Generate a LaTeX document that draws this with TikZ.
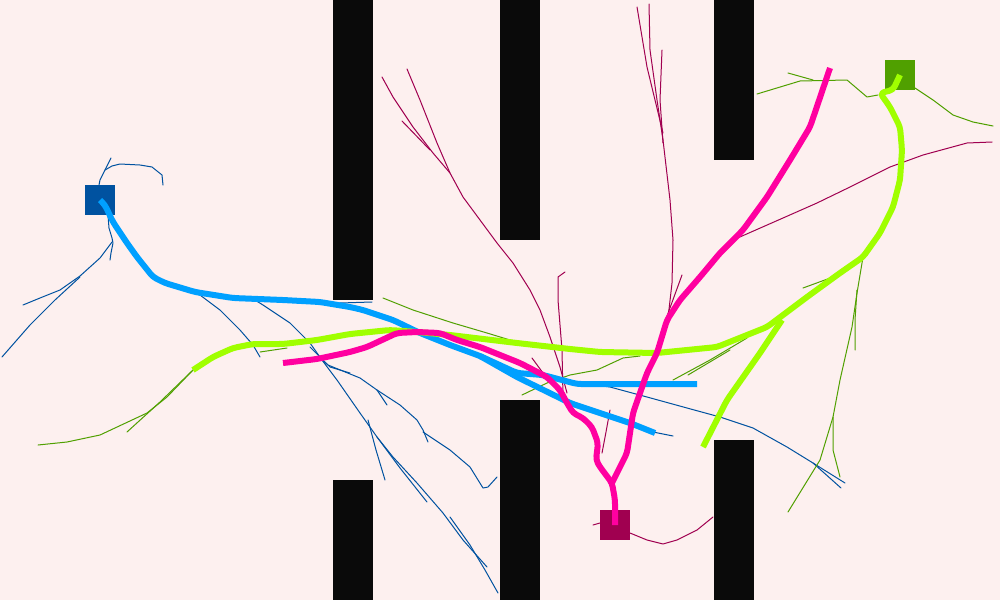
\documentclass[tikz,border=0pt]{standalone}
\definecolor{bgc}{RGB}{253,240,239}
\definecolor{obs}{RGB}{10,10,10}
\definecolor{bsq}{RGB}{0,82,160}
\definecolor{bpath}{RGB}{0,160,255}
\definecolor{gsq}{RGB}{80,160,0}
\definecolor{gpath}{RGB}{160,255,0}
\definecolor{msq}{RGB}{160,0,80}
\definecolor{mpath}{RGB}{255,0,160}
\tikzset{
  obstacle/.style={fill=obs,draw=none},
  sq/.style={rectangle,minimum size=30pt,inner sep=0pt,draw=none},
  thin tree/.style={line width=1pt,line join=round,line cap=round},
  thick path/.style={line width=6pt,line join=round,rounded corners=4pt},
}
\begin{document}
\begin{tikzpicture}[x=1pt,y=-1pt]
\fill[bgc] (0,0) rectangle (1000,600);
\useasboundingbox (0,0) rectangle (1000,600);
% obstacles
\fill[obstacle] (333,0) rectangle (373,300);
\fill[obstacle] (333,480) rectangle (373,600);
\fill[obstacle] (500,0) rectangle (540,240);
\fill[obstacle] (500,400) rectangle (540,600);
\fill[obstacle] (714,0) rectangle (754,160);
\fill[obstacle] (714,440) rectangle (754,600);
% start/goal squares
\node[sq,fill=bsq] (bstart) at (100,200) {};
\node[sq,fill=msq] (mstart) at (615,525) {};
\node[sq,fill=gsq] (gstart) at (900,75) {};
% ---- blue tree
\begin{scope}[thin tree,draw=bsq]
\draw (99,185) -- (100,180) -- (105,170) -- (111,158);
\draw (105,170) -- (112,166) -- (120,164) -- (140,165) -- (152,167) -- (162,175) -- (163,185);
\draw (108,215) -- (109,228) -- (112,238) -- (113,243) -- (111,253) -- (110,260);
\draw (112,242) -- (100,258) -- (80,276) -- (60,290) -- (40,298) -- (23,305);
\draw (80,277) -- (55,300) -- (30,325) -- (2,357);
\draw (163,283) -- (200,295) -- (220,310) -- (240,330) -- (253,345) -- (260,357);
\draw (250,297) -- (263,305) -- (290,323) -- (310,343) -- (322,360) -- (337,380) -- (360,413) -- (377,437) -- (393,457) -- (417,483) -- (443,513) -- (463,540) -- (487,567);
\draw (310,347) -- (330,367) -- (350,373);
\draw (450,517) -- (470,545) -- (485,570) -- (498,593);
\draw (377,437) -- (400,468) -- (427,502);
\draw (368,420) -- (376,450) -- (385,480);
\draw (322,360) -- (328,365) -- (360,378) -- (377,390) -- (387,405);
\draw (377,390) -- (400,405) -- (417,420) -- (423,430) -- (428,442);
\draw (423,432) -- (450,450) -- (470,467) -- (483,488) -- (488,487) -- (497,477);
\draw (340,303) -- (372,302);
\draw (580,383) -- (610,387) -- (647,397) -- (687,408) -- (720,417) -- (753,428) -- (787,447) -- (813,463) -- (845,483);
\draw (813,463) -- (841,488);
\draw (653,432) -- (673,436);
\end{scope}
% ---- green tree
\begin{scope}[thin tree,draw=gsq]
\draw (193,370) -- (167,397) -- (147,413) -- (100,435) -- (67,442) -- (38,445);
\draw (193,370) -- (160,402) -- (127,432);
\draw (260,352) -- (287,348);
\draw (383,298) -- (413,310) -- (453,323) -- (487,333) -- (510,340) -- (540,346) -- (560,350);
\draw (522,395) -- (547,383) -- (570,375) -- (597,370) -- (623,358) -- (640,356);
\draw (673,380) -- (710,360) -- (747,338);
\draw (688,375) -- (730,350);
\draw (803,288) -- (833,277);
\draw (727,400) -- (740,385);
\draw (915,88) -- (933,100) -- (953,115) -- (973,122) -- (993,126);
\draw (757,94) -- (800,81) -- (847,80) -- (867,97) -- (878,95);
\draw (788,73) -- (813,80);
\draw (863,257) -- (857,293) -- (852,327) -- (840,380) -- (833,417) -- (833,450) -- (840,477);
\draw (833,417) -- (820,460) -- (788,512);
\draw (857,290) -- (855,320) -- (855,350);
\end{scope}
% ---- magenta tree
\begin{scope}[thin tree,draw=msq]
\draw (382,77) -- (393,97) -- (413,127) -- (433,153) -- (450,173) -- (463,197) -- (480,220) -- (497,243) -- (513,263) -- (530,290) -- (540,310) -- (550,337) -- (560,367) -- (567,393);
\draw (407,69) -- (420,100) -- (437,143) -- (450,173);
\draw (402,121) -- (430,150);
\draw (565,272) -- (558,277) -- (558,300) -- (562,350) -- (563,397);
\draw (532,358) -- (543,373);
\draw (649,4) -- (650,50) -- (657,100) -- (663,140) -- (670,200) -- (673,240) -- (672,283) -- (667,327);
\draw (637,7) -- (647,67) -- (663,133);
\draw (662,50) -- (660,100) -- (663,143);
\draw (682,275) -- (663,327);
\draw (733,240) -- (783,218) -- (817,203) -- (850,187) -- (890,167) -- (923,155) -- (967,143) -- (992,142);
\draw (610,410) -- (606,432) -- (602,453);
\draw (593,525) -- (600,523);
\draw (630,533) -- (647,540) -- (663,544) -- (677,540) -- (697,530) -- (713,517);
\end{scope}
% ---- blue path
\draw[thick path,draw=bpath] (bstart.center) -- (105,205) -- (113,222) -- (127,243) -- (137,257) -- (153,277) -- (165,283) -- (195,292) -- (233,298) -- (283,300) -- (320,302) -- (350,307) -- (363,310) -- (393,320) -- (420,333) -- (450,345) -- (480,356) -- (517,373) -- (543,375) -- (577,384) -- (697,384);
\draw[thick path,draw=bpath] (480,356) -- (517,377) -- (570,403) -- (630,423) -- (655,433);
% ---- green path
\draw[thick path,draw=gpath] (gstart.center) -- (893,90) -- (880,93) -- (890,107) -- (900,127) -- (902,150) -- (900,180) -- (893,207) -- (880,233) -- (863,257) -- (840,273) -- (807,297) -- (767,327) -- (717,347) -- (657,353) -- (600,352) -- (570,349) -- (517,343) -- (450,335) -- (417,332) -- (390,330) -- (350,334) -- (317,340) -- (283,344) -- (253,344) -- (233,348) -- (213,357) -- (193,370);
\draw[thick path,draw=gpath] (782,320) -- (760,353) -- (727,400) -- (703,447);
% ---- magenta path
\draw[thick path,draw=mpath] (mstart.center) -- (615,500) -- (612,483) -- (600,467) -- (596,460) -- (598,443) -- (592,427) -- (583,418) -- (573,413) -- (567,403) -- (560,390) -- (547,377) -- (520,363) -- (480,347) -- (457,340) -- (440,333) -- (417,332) -- (397,333) -- (367,347) -- (350,352) -- (317,359) -- (283,363);
\draw[thick path,draw=mpath] (612,483) -- (620,467) -- (627,453) -- (630,433) -- (633,413) -- (640,393) -- (647,373) -- (657,353) -- (667,320) -- (680,300) -- (700,277) -- (720,253) -- (743,230) -- (767,197) -- (790,160) -- (810,127) -- (830,68);
\end{tikzpicture}
\end{document}
